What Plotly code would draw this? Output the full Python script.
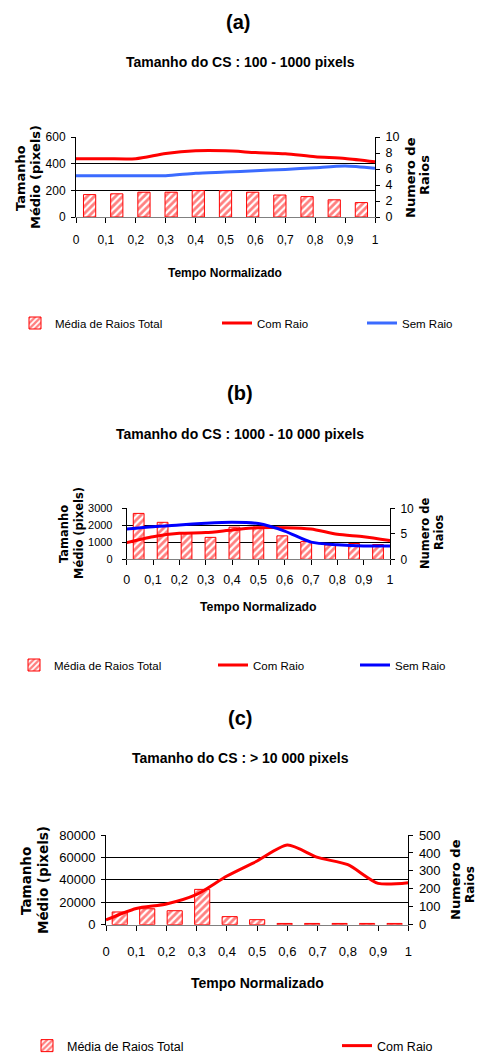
import plotly.graph_objects as go

W, H = 480, 1054

# ---------------- data ----------------
x_time = [0.0, 0.1, 0.2, 0.3, 0.4, 0.5, 0.6, 0.7, 0.8, 0.9, 1.0]
x_labels = ["0", "0,1", "0,2", "0,3", "0,4", "0,5", "0,6", "0,7", "0,8", "0,9", "1"]
bar_cats = ["1", "2", "3", "4", "5", "6", "7", "8", "9", "10", "11"]

# (a) Tamanho do CS : 100 - 1000 pixels
a_media_raios = [2.8, 2.9, 3.1, 3.1, 3.3, 3.3, 3.1, 2.75, 2.55, 2.15, 1.8]
a_com_raio = [437, 437, 437, 476, 496, 496, 484, 474, 452, 439, 414]
a_sem_raio = [310, 310, 310, 310, 328, 337, 347, 357, 370, 382, 365]

# (b) Tamanho do CS : 1000 - 10 000 pixels
b_media_raios = [9.0, 7.25, 5.1, 4.3, 6.3, 6.3, 4.6, 3.5, 2.8, 3.1, 2.9]
b_com_raio = [980, 1330, 1530, 1570, 1725, 1860, 1860, 1780, 1470, 1330, 1100]
b_sem_raio = [1780, 1920, 2020, 2120, 2180, 2100, 1660, 1010, 860, 785, 785]

# (c) Tamanho do CS : > 10 000 pixels
c_media_raios = [71, 89, 78, 197, 45, 28, 7, 7, 7, 7, 7]
c_com_raio = [4200, 14500, 18500, 27000, 43400, 56800, 71000, 60000, 53500, 36900, 37500]

ARIAL = "Liberation Sans, Arial, sans-serif"
WIDE = "DejaVu Sans, Verdana, sans-serif"
RED = "#FF0000"


def py(p):
    return 1 - p / H


def pxx(p):
    return p / W


bar_marker = dict(color="white", line=dict(color=RED, width=1),
                  pattern=dict(shape="/", fgcolor=RED, bgcolor="white", size=5, solidity=0.55))

panels = [
    dict(name="a", x0=76, x1=375, y0=137, y1=217, bars=a_media_raios, com=a_com_raio, sem=a_sem_raio,
         sem_color="#3B6BFF", lrange=[0, 600], ldtick=200, rrange=[0, 10], rdtick=2, width=0.45,
         xtick=12, ltick=12, rtick=12.5, xstand=7, lstand=3),
    dict(name="b", x0=126.7, x1=390, y0=508.3, y1=559.3, bars=b_media_raios, com=b_com_raio, sem=b_sem_raio,
         sem_color="#0000FF", lrange=[0, 3000], ldtick=1000, rrange=[0, 10], rdtick=5, width=0.45,
         xtick=12.5, ltick=11, rtick=12, xstand=4, lstand=7),
    dict(name="c", x0=106, x1=408.3, y0=835, y1=924.7, bars=c_media_raios, com=c_com_raio, sem=None,
         sem_color=None, lrange=[0, 80000], ldtick=20000, rrange=[0, 500], rdtick=100, width=0.55,
         xtick=13, ltick=13, rtick=13, xstand=10, lstand=3),
]

fig = go.Figure()
layout = dict(width=W, height=H, margin=dict(l=0, r=0, t=0, b=0, autoexpand=False),
              paper_bgcolor="white", plot_bgcolor="white", showlegend=True)

legend_idx = 0


def next_legend():
    global legend_idx
    legend_idx += 1
    return "legend" if legend_idx == 1 else f"legend{legend_idx}"


for i, p in enumerate(panels):
    kb = 2 * i + 1
    ko = 2 * i + 2
    xb = "x" if kb == 1 else f"x{kb}"
    yb = "y" if kb == 1 else f"y{kb}"
    xo = f"x{ko}"
    yo = f"y{ko}"
    dom_x = [pxx(p["x0"]), pxx(p["x1"])]
    dom_y = [py(p["y1"]), py(p["y0"])]

    layout["xaxis" if kb == 1 else f"xaxis{kb}"] = dict(
        domain=dom_x, anchor=yb, type="category", visible=False, range=[-0.5, 10.5])
    layout["yaxis" if kb == 1 else f"yaxis{kb}"] = dict(
        domain=dom_y, anchor=xb, side="right", range=p["rrange"], dtick=p["rdtick"],
        showgrid=False, zeroline=False, showline=True, linecolor="black", linewidth=1,
        ticks="outside", ticklen=4, tickcolor="black",
        tickfont=dict(family=ARIAL, size=p["rtick"], color="black"), tickformat="d",
        ticklabelstandoff=3)
    layout[f"xaxis{ko}"] = dict(
        overlaying=xb, anchor=yb, side="bottom", range=[0, 1], tickvals=x_time, ticktext=x_labels,
        showgrid=False, zeroline=False, showline=True, linecolor="#808080", linewidth=1,
        ticks="outside", ticklen=5, tickcolor="black",
        tickfont=dict(family=ARIAL, size=p["xtick"], color="black"), ticklabelstandoff=p["xstand"])
    layout[f"yaxis{ko}"] = dict(
        overlaying=yb, anchor=xb, side="left", range=p["lrange"], dtick=p["ldtick"],
        showgrid=True, gridcolor="black", gridwidth=1, zeroline=False, showline=True,
        linecolor="black", linewidth=1, ticks="outside", ticklen=4, tickcolor="black",
        tickfont=dict(family=ARIAL, size=p["ltick"], color="black"), tickformat="d",
        ticklabelstandoff=p["lstand"])

    fig.add_trace(go.Bar(x=bar_cats, y=p["bars"], xaxis=xb, yaxis=yb, width=p["width"],
                         marker=bar_marker, name="Média de Raios Total", legend=next_legend()))
    fig.add_trace(go.Scatter(x=x_time, y=p["com"], xaxis=xo, yaxis=yo, mode="lines",
                             line=dict(color=RED, width=3, shape="spline", smoothing=0.7),
                             name="Com Raio", legend=next_legend()))
    if p["sem"] is not None:
        fig.add_trace(go.Scatter(x=x_time, y=p["sem"], xaxis=xo, yaxis=yo, mode="lines",
                                 line=dict(color=p["sem_color"], width=3, shape="spline", smoothing=0.7),
                                 name="Sem Raio", legend=next_legend()))

# legends: (text-left px, centre-y px, font size)
leg_pos = [
    (56, 323, 11.5), (258, 323, 11.5), (403, 323, 11.5),
    (55, 665, 11.5), (254, 665, 11.5), (396, 665, 11.5),
    (68, 1046, 12.5), (378, 1046, 12.5),
]
for j, (tx, ly, fs) in enumerate(leg_pos):
    key = "legend" if j == 0 else f"legend{j + 1}"
    layout[key] = dict(x=pxx(tx - 41), y=py(ly), xanchor="left", yanchor="middle", orientation="h",
                       bgcolor="rgba(0,0,0,0)", borderwidth=0,
                       font=dict(family=ARIAL, size=fs, color="black"))

ann = []


def text(x, y, s, size, family=ARIAL, bold=True, angle=0):
    ann.append(dict(x=pxx(x), y=py(y), xref="paper", yref="paper", text=f"<b>{s}</b>" if bold else s,
                    showarrow=False, textangle=angle, xanchor="center", yanchor="middle",
                    font=dict(family=family, size=size, color="black")))


# titles
text(238, 22, "(a)", 20)
text(240, 62, "Tamanho do CS : 100 - 1000 pixels", 14)
text(240, 393, "(b)", 20)
text(240, 434, "Tamanho do CS : 1000 - 10 000 pixels", 14)
text(240, 718, "(c)", 20)
text(240, 758, "Tamanho do CS : > 10 000 pixels", 14)

# x axis titles
text(225, 273, "Tempo Normalizado", 12)
text(258, 607, "Tempo Normalizado", 12.3)
text(257, 983, "Tempo Normalizado", 14)

# y axis titles (left)
text(20, 178, "Tamanho", 13, WIDE, angle=-90)
text(35, 177, "Médio (pixels)", 13, WIDE, angle=-90)
text(64, 534, "Tamanho", 11.5, WIDE, angle=-90)
text(79, 533, "Médio (pixels)", 11.5, WIDE, angle=-90)
text(26, 881, "Tamanho", 13.5, WIDE, angle=-90)
text(43, 880, "Médio (pixels)", 13.5, WIDE, angle=-90)

# y axis titles (right)
text(410, 178, "Numero de", 13, WIDE, angle=-90)
text(425, 175, "Raios", 13, WIDE, angle=-90)
text(425, 534, "Numero de", 11.5, WIDE, angle=-90)
text(439, 533, "Raios", 11.5, WIDE, angle=-90)
text(455, 880, "Numero de", 13, WIDE, angle=-90)
text(470, 885, "Raios", 12, WIDE, angle=-90)

layout["annotations"] = ann
fig.update_layout(**layout)
fig.write_html("out.html", config={"displayModeBar": False},
               post_script="document.body.style.margin='0';")
